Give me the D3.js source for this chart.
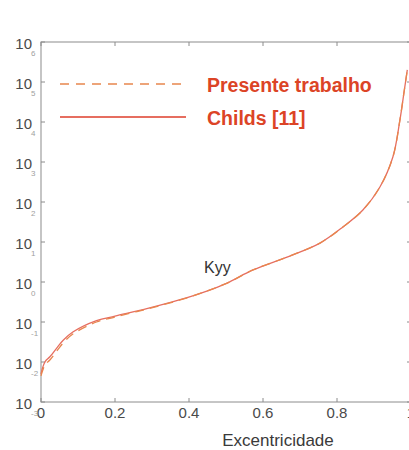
<!DOCTYPE html>
<html>
<head>
<meta charset="utf-8">
<script src="https://cdn.jsdelivr.net/npm/d3@7"></script>
<style>
  html, body { margin: 0; padding: 0; background: #fff; overflow: hidden; }
  svg { display: block; font-family: "Liberation Sans", Arial, sans-serif; }
</style>
</head>
<body>
<svg id="chart" width="409" height="450"></svg>
<script>
// Kyy stiffness coefficient versus eccentricity ratio
const eccentricity = [0, 0.005, 0.012, 0.024, 0.045, 0.06, 0.086, 0.15, 0.2, 0.286, 0.376, 0.45, 0.503, 0.573, 0.665, 0.754, 0.816, 0.87, 0.916, 0.951, 0.97, 0.982, 0.99];
const kyyPresente = [0.0045, 0.0063, 0.0089, 0.0112, 0.020, 0.030, 0.050, 0.10, 0.133, 0.211, 0.355, 0.60, 0.94, 2.0, 4.2, 9.4, 23.7, 63, 237, 1330, 11200, 63000, 200000];
const kyyChilds   = [0.0050, 0.0075, 0.0105, 0.0135, 0.024, 0.035, 0.056, 0.108, 0.14, 0.215, 0.36, 0.60, 0.94, 2.0, 4.2, 9.4, 23.7, 63, 237, 1330, 11200, 63000, 200000];

const xTicks = [0, 0.2, 0.4, 0.6, 0.8, 1];
const xTickLabels = ["0", "0.2", "0.4", "0.6", "0.8", "1"];
const yExponents = [-3, -2, -1, 0, 1, 2, 3, 4, 5, 6];

const legendItems = [
  { label: "Presente trabalho", dashed: true },
  { label: "Childs [11]", dashed: false }
];

(function draw() {
  const svg = d3.select("#chart");
  const plotLeft = 41, plotRight = 411, plotTop = 42, plotBottom = 402;

  const x = d3.scaleLinear().domain([0, 1]).range([plotLeft, plotRight]);
  const y = d3.scaleLog().domain([1e-3, 1e6]).range([plotBottom, plotTop]);

  const axisColor = "#8c8c8c";
  const textColor = "#4a4a4a";

  // frame
  svg.append("rect")
    .attr("x", plotLeft).attr("y", plotTop)
    .attr("width", plotRight - plotLeft).attr("height", plotBottom - plotTop)
    .attr("fill", "none").attr("stroke", axisColor).attr("stroke-width", 1);

  // x ticks (inward, bottom and top)
  const tickLen = 4;
  xTicks.forEach(t => {
    svg.append("line").attr("x1", x(t)).attr("x2", x(t))
      .attr("y1", plotBottom).attr("y2", plotBottom - tickLen)
      .attr("stroke", axisColor);
    svg.append("line").attr("x1", x(t)).attr("x2", x(t))
      .attr("y1", plotTop).attr("y2", plotTop + tickLen)
      .attr("stroke", axisColor);
  });
  svg.selectAll(".xlab").data(xTicks).enter().append("text")
    .attr("x", d => x(d)).attr("y", plotBottom + 16)
    .attr("text-anchor", "middle")
    .attr("font-size", 15).attr("fill", textColor)
    .text((d, i) => xTickLabels[i]);

  // y ticks (inward, left and right) with power-of-ten labels
  yExponents.forEach(e => {
    const yy = y(Math.pow(10, e));
    svg.append("line").attr("x1", plotLeft).attr("x2", plotLeft + tickLen)
      .attr("y1", yy).attr("y2", yy).attr("stroke", axisColor);
    svg.append("line").attr("x1", plotRight).attr("x2", plotRight - tickLen)
      .attr("y1", yy).attr("y2", yy).attr("stroke", axisColor);
    svg.append("text")
      .attr("x", 32).attr("y", yy + 7)
      .attr("text-anchor", "end")
      .attr("font-size", 15).attr("fill", textColor)
      .text("10");
    svg.append("text")
      .attr("x", 31).attr("y", yy + 14)
      .attr("font-size", 8).attr("fill", "#a0a0a0")
      .text(e);
  });

  // axis title
  svg.append("text")
    .attr("x", 278).attr("y", 446)
    .attr("text-anchor", "middle")
    .attr("font-size", 17).attr("fill", "#3a3a3a")
    .text("Excentricidade");

  // curves
  const line = d3.line()
    .x((d, i) => x(eccentricity[i]))
    .y(d => y(d))
    .curve(d3.curveCatmullRom.alpha(0.5));

  const solidColor = "#e66e60";
  const dashColor = "#e8864e";

  svg.append("path")
    .attr("d", line(kyyChilds))
    .attr("fill", "none").attr("stroke", solidColor).attr("stroke-width", 1.3);

  svg.append("path")
    .attr("d", line(kyyPresente))
    .attr("fill", "none").attr("stroke", dashColor).attr("stroke-width", 1.3)
    .attr("stroke-dasharray", "9,6");

  // curve label
  svg.append("text")
    .attr("x", 204).attr("y", 273)
    .attr("font-size", 16).attr("fill", "#333")
    .text("Kyy");

  // legend
  const legendY = [84, 117];
  legendItems.forEach((item, i) => {
    svg.append("line")
      .attr("x1", 60).attr("x2", 186)
      .attr("y1", legendY[i]).attr("y2", legendY[i])
      .attr("stroke", item.dashed ? dashColor : solidColor)
      .attr("stroke-width", item.dashed ? 1.6 : 1.8)
      .attr("stroke-dasharray", item.dashed ? "9,7" : null);
    svg.append("text")
      .attr("x", 207).attr("y", legendY[i] + 8)
      .attr("font-size", 19.5).attr("font-weight", "bold")
      .attr("fill", "#dc4426")
      .text(item.label);
  });
})();
</script>
</body>
</html>
